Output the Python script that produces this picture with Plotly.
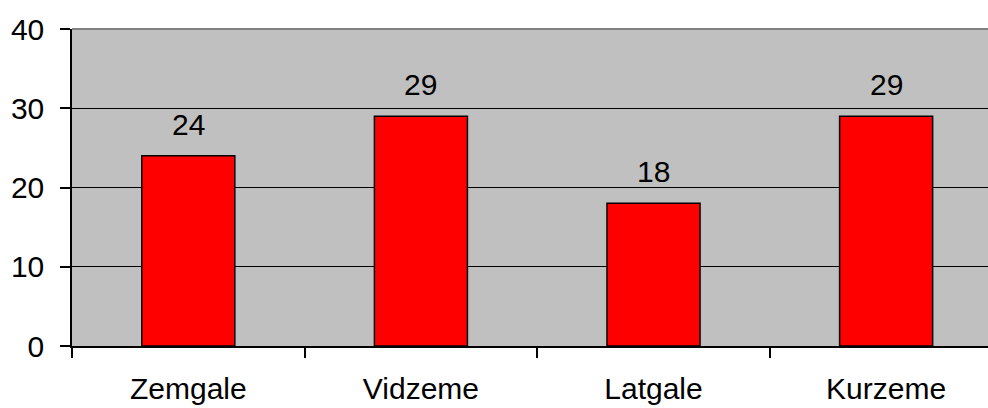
import plotly.graph_objects as go

categories = ["Zemgale", "Vidzeme", "Latgale", "Kurzeme"]
values = [24, 29, 18, 29]
y_ticks = [0, 10, 20, 30, 40]

FONT = "Liberation Sans, Arial, sans-serif"
FS = 30

fig = go.Figure()
fig.add_trace(go.Bar(
    x=categories, y=values,
    marker=dict(color="#FF0000", line=dict(color="#000000", width=1.5)),
    width=0.4,
))

for c, v in zip(categories, values):
    fig.add_annotation(x=c, y=v, text=str(v), showarrow=False,
                       yanchor="bottom", yshift=13,
                       font=dict(family=FONT, size=FS, color="#000000"))

fig.add_shape(type="line", xref="paper", yref="paper", x0=0, x1=1, y0=1, y1=1,
              line=dict(color="#808080", width=2))

fig.update_layout(
    width=988, height=408,
    margin=dict(l=72, r=0, t=29, b=62),
    paper_bgcolor="#FFFFFF", plot_bgcolor="#C0C0C0",
    showlegend=False,
    font=dict(family=FONT, size=FS, color="#000000"),
    xaxis=dict(
        type="category", range=[-0.5, 3.438],
        tickson="boundaries", ticks="outside", ticklen=10, tickcolor="#000000", tickwidth=1.5,
        showline=True, linecolor="#000000", linewidth=1.5,
        showgrid=False, tickfont=dict(size=FS), ticklabelstandoff=15,
    ),
    yaxis=dict(
        range=[0, 40], tickvals=y_ticks,
        ticks="outside", ticklen=10, tickcolor="#000000", tickwidth=1.5,
        showline=True, linecolor="#000000", linewidth=1.5,
        showgrid=True, gridcolor="#000000", gridwidth=1,
        zeroline=False, tickfont=dict(size=FS), ticklabelstandoff=10,
    ),
)

fig.write_html("out.html", config={"displayModeBar": False},
               post_script="document.body.style.margin='0';document.body.style.overflow='hidden';")
